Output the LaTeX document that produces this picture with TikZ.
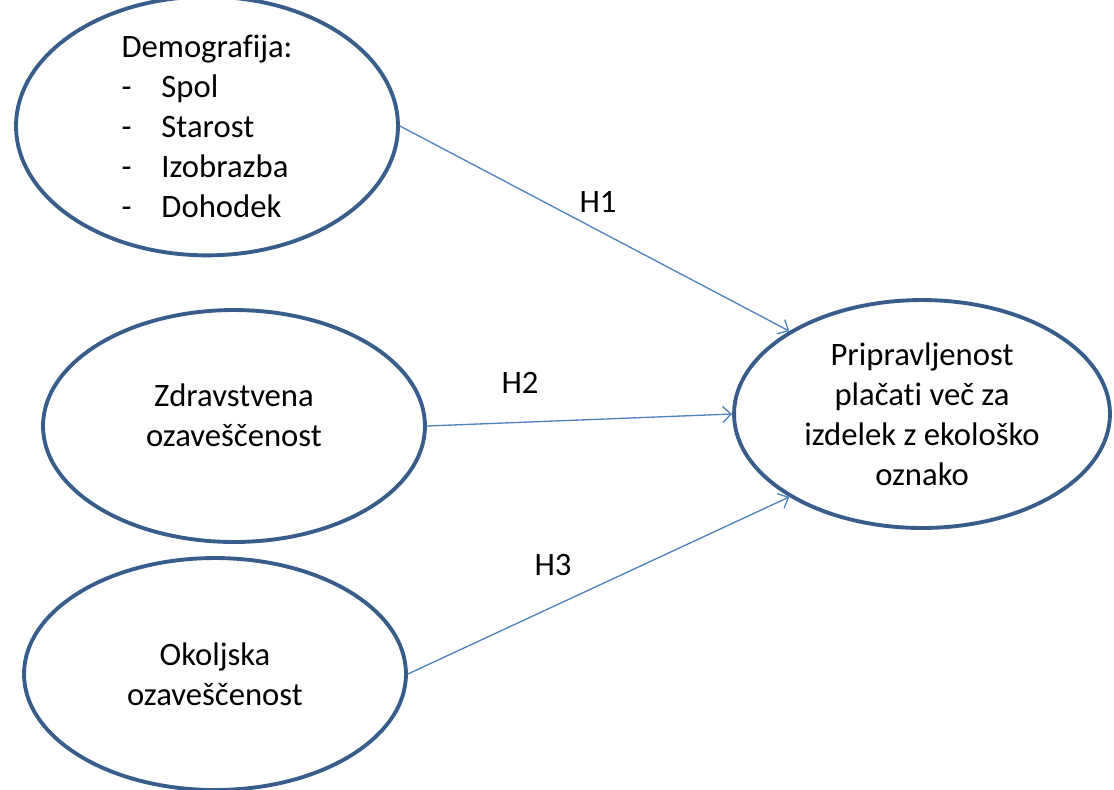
\documentclass[tikz,border=0pt]{standalone}
\usepackage{fontspec}
\setmainfont[Ligatures=NoCommon]{Carlito}
\usepackage{tikz}
\usetikzlibrary{arrows.meta, shapes.geometric}
\definecolor{ozrim}{RGB}{56,93,138}
\definecolor{ozarrow}{RGB}{79,129,189}

\begin{document}
\begin{tikzpicture}[x=0.02cm, y=-0.02cm,
    construct/.style={ellipse, draw=ozrim, line width=2.2pt, inner sep=0pt,
        minimum width=7.64cm, minimum height=4.64cm, align=center,
        font=\fontsize{18.6}{22.8}\selectfont},
    hpath/.style={draw=ozarrow, line width=0.75pt, -{Straight Barb[length=1.7mm,width=3.2mm]}},
    hlabel/.style={font=\fontsize{18.6}{22.8}\selectfont}]
                \useasboundingbox (0,0) rectangle (1114,789);

                % Predictors
                \node[construct, align=left] (demo) at (207, 126)
                    {Demografija:\\
                     \makebox[0.8cm][l]{-}Spol\\
                     \makebox[0.8cm][l]{-}Starost\\
                     \makebox[0.8cm][l]{-}Izobrazba\\
                     \makebox[0.8cm][l]{-}Dohodek};
                \node[construct] (zdrav) at (234, 426) {Zdravstvena\\ozaveščenost\\[-0.36cm]\mbox{}};
                \node[construct] (okolj) at (215, 674) {Okoljska\\ozaveščenost};

                % Outcome
                \node[construct, minimum width=7.52cm, minimum height=4.56cm] (prip) at (922, 414)
                    {Pripravljenost\\plačati več za\\izdelek z ekološko\\oznako};

                % Hypotheses
                \draw[hpath] (demo.east) -- (prip.148);
                \node[hlabel] (h1) at (598, 202) {H1};

                \draw[hpath] (zdrav.east) -- (prip.west);
                \node[hlabel] (h2) at (520, 383) {H2};

                \draw[hpath] (okolj.east) -- (prip.212);
                \node[hlabel] (h3) at (553, 565) {H3};
            \end{tikzpicture}
\end{document}
